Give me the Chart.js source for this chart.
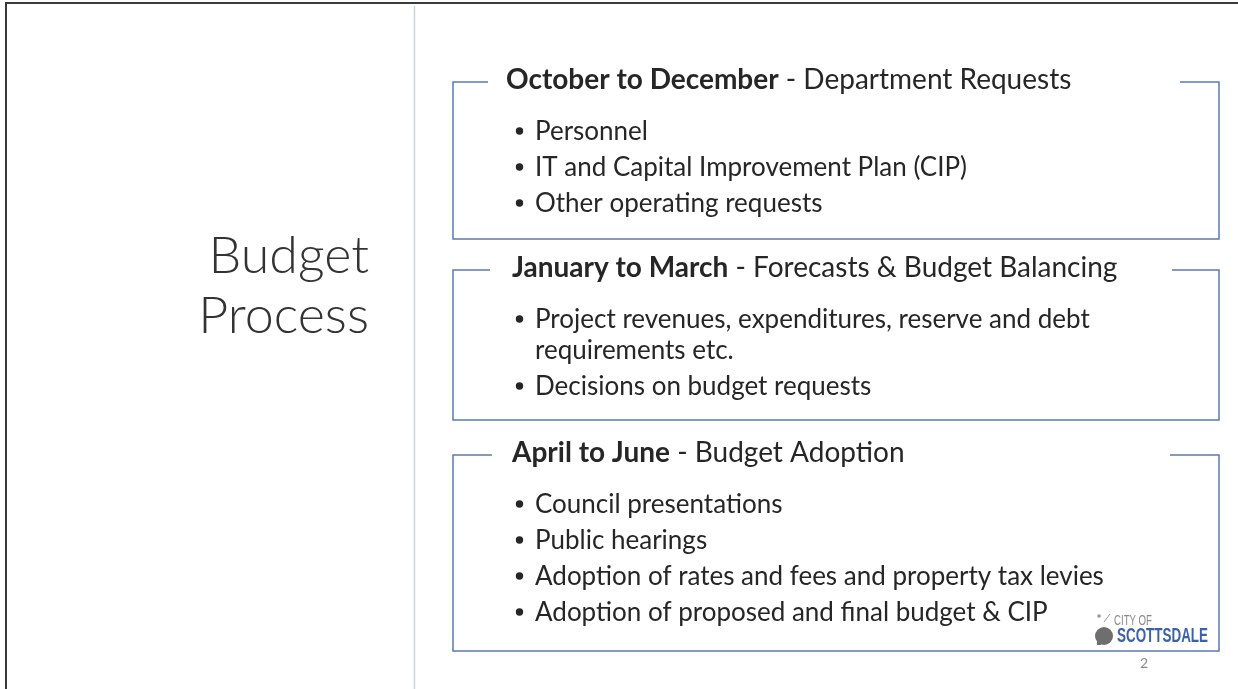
<!DOCTYPE html>
<html>
<head>
<meta charset="utf-8">
<script src="https://cdn.jsdelivr.net/npm/chart.js@4.4.1/dist/chart.umd.min.js"></script>
<style>
  html, body { margin: 0; padding: 0; background: #ffffff; }
  #slide { display: block; }
</style>
</head>
<body>
<canvas id="slide" width="1238" height="689"></canvas>
<script>
// contenido de la diapositiva
const slideTitle = ['Budget', 'Process'];
const sectionPeriods = ['October to December', 'January to March', 'April to June'];
const sectionTitles = ['Department Requests', 'Forecasts & Budget Balancing', 'Budget Adoption'];
const sectionBullets = [
    ['Personnel', 'IT and Capital Improvement Plan (CIP)', 'Other operating requests'],
    ['Project revenues, expenditures, reserve and debt\nrequirements etc.', 'Decisions on budget requests'],
    ['Council presentations', 'Public hearings', 'Adoption of rates and fees and property tax levies', 'Adoption of proposed and final budget & CIP']
];
const logoLines = ['CITY OF', 'SCOTTSDALE'];
const pageNumber = '2';

// marco de cada bloque (px de la diapositiva)
const boxTop = [82, 270, 455];
const boxBottom = [239, 420, 651];
const headX = [506, 512, 512];
const gapLeft = [488, 490, 492];
const gapRight = [1180, 1172, 1170];
const BOX_L = 453, BOX_R = 1219;

const FONT = 'Lato, "Open Sans", sans-serif';
const TXT = '#262626';
const LINE = '#5b79b6';

// texto estrecho (logo) ajustado a un ancho
function narrowText(ctx, txt, x, y, font, color, width) {
    ctx.save();
    ctx.font = font;
    const k = width / ctx.measureText(txt).width;
    ctx.translate(x, y);
    ctx.scale(k, 1);
    ctx.fillStyle = color;
    ctx.textAlign = 'left';
    ctx.fillText(txt, 0, 0);
    ctx.restore();
}

const slidePlugin = {
    id: 'slide',
    afterDraw(chart) {
        const ctx = chart.ctx;
        const sx = chart.scales.x, sy = chart.scales.y;
        const X = v => sx.getPixelForValue(v);
        const Y = v => sy.getPixelForValue(v);

        ctx.save();
        // borde exterior
        ctx.strokeStyle = '#3a3a3a';
        ctx.lineWidth = 2;
        ctx.beginPath();
        ctx.moveTo(X(6), Y(689)); ctx.lineTo(X(6), Y(3)); ctx.lineTo(X(1238), Y(3));
        ctx.stroke();

        // separador vertical
        ctx.strokeStyle = '#c9d3da';
        ctx.lineWidth = 1.5;
        ctx.beginPath();
        ctx.moveTo(X(414.5), Y(6)); ctx.lineTo(X(414.5), Y(689));
        ctx.stroke();

        // titulo
        ctx.fillStyle = '#333333';
        ctx.font = '300 52px ' + FONT;
        ctx.textAlign = 'right';
        ctx.textBaseline = 'alphabetic';
        ctx.fillText(slideTitle[0], X(369), Y(273));
        ctx.fillText(slideTitle[1], X(369), Y(333));

        // bloques
        ctx.textAlign = 'left';
        sectionPeriods.forEach((p, i) => {
            const t = boxTop[i], b = boxBottom[i];
            ctx.strokeStyle = LINE;
            ctx.lineWidth = 1.5;
            ctx.beginPath();
            ctx.moveTo(X(gapLeft[i]), Y(t)); ctx.lineTo(X(BOX_L), Y(t));
            ctx.lineTo(X(BOX_L), Y(b)); ctx.lineTo(X(BOX_R), Y(b));
            ctx.lineTo(X(BOX_R), Y(t)); ctx.lineTo(X(gapRight[i]), Y(t));
            ctx.stroke();

            ctx.fillStyle = TXT;
            ctx.font = 'bold 28px ' + FONT;
            const hy = Y(t + 7);
            ctx.fillText(p, X(headX[i]), hy);
            const w = ctx.measureText(p).width;
            ctx.font = '28px ' + FONT;
            ctx.fillText(' - ' + sectionTitles[i], X(headX[i]) + w, hy);

            let y = t + 58;
            ctx.font = '26px ' + FONT;
            sectionBullets[i].forEach(item => {
                const lines = item.split('\n');
                ctx.beginPath();
                ctx.arc(X(519.5), Y(y - 9), 3.7, 0, Math.PI * 2);
                ctx.fill();
                lines.forEach((ln, k) => {
                    ctx.fillText(ln, X(535), Y(y));
                    y += (k < lines.length - 1) ? 31 : 36;
                });
            });
        });

        // logo
        ctx.fillStyle = '#ffffff';
        ctx.fillRect(X(1082), Y(606), 135, 43);
        ctx.fillStyle = '#6e6e6e';
        ctx.beginPath();
        ctx.ellipse(X(1104), Y(636), 9, 9, 0, 0, Math.PI * 2);
        ctx.fill();
        ctx.fillRect(X(1097), Y(636), 4, 9);
        ctx.fillStyle = '#9a9a9a';
        ctx.beginPath();
        ctx.arc(X(1099), Y(616), 1.8, 0, Math.PI * 2);
        ctx.fill();
        ctx.strokeStyle = '#9a9a9a';
        ctx.lineWidth = 1;
        ctx.beginPath();
        ctx.moveTo(X(1104), Y(622)); ctx.lineTo(X(1110), Y(614));
        ctx.stroke();

        narrowText(ctx, logoLines[0], X(1114), Y(625), '14px "Liberation Sans", sans-serif', '#8a8a8a', 38);
        narrowText(ctx, logoLines[1], X(1117), Y(642), 'bold 19.5px "Liberation Sans", sans-serif', '#3b62a8', 91);

        // numero de pagina
        ctx.fillStyle = '#8a8a8a';
        ctx.font = '14px ' + FONT;
        ctx.textAlign = 'center';
        ctx.fillText(pageNumber, X(1144), Y(668));
        ctx.restore();
    }
};

new Chart(document.getElementById('slide'), {
    type: 'scatter',
    data: { datasets: [{ data: [] }] },
    options: {
        responsive: false,
        animation: false,
        layout: { padding: 0 },
        plugins: { legend: { display: false }, tooltip: { enabled: false } },
        scales: {
            x: { type: 'linear', min: 0, max: 1238, display: false },
            y: { type: 'linear', min: 0, max: 689, reverse: true, display: false }
        }
    },
    plugins: [slidePlugin]
});
</script>
</body>
</html>
